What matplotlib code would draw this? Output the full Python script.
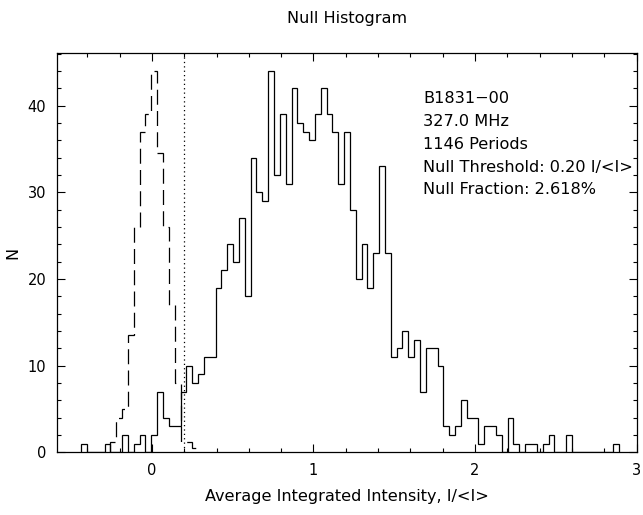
import numpy as np
import matplotlib.pyplot as plt
from matplotlib.ticker import MultipleLocator

# histogram bins (I/<I>)
bin_start = -0.4375
bin_width = 0.03616

# on-pulse counts, one per bin
on_counts = [1, 0, 0, 0, 1, 0, 0, 2, 0, 1, 2, 0, 2, 7, 4, 3, 3, 7, 10, 8,
             9, 11, 11, 19, 21, 24, 22, 27, 18, 34, 30, 29, 44, 32, 39, 31,
             42, 38, 37, 36, 39, 42, 39, 37, 31, 37, 28, 20, 24, 19, 23, 33, 23,
             11, 12, 14, 11, 13, 7, 12, 12, 10, 3, 2, 3, 6, 4, 4, 1, 3, 3, 2,
             0, 4, 1, 0, 1, 1, 0, 1, 2, 0, 0, 2, 0, 0, 0, 0, 0, 0, 0, 1]

# off-pulse histogram, starts at bin 5
off_first_bin = 5
off_counts = [1.2, 4, 5, 13.5, 26, 37, 39, 44, 34.6, 26, 17, 8, 1.2, 1.2, 0.5]

threshold = 0.20
info_lines = ["B1831\u221200", "327.0 MHz", "1146 Periods",
              "Null Threshold: 0.20 I/<I>", "Null Fraction: 2.618%"]

W, H = 643, 515
fig = plt.figure(figsize=(W / 100, H / 100), dpi=100)
ax = fig.add_axes([57.4 / W, 1 - 452.3 / H, (636.5 - 57.4) / W, (452.3 - 53.3) / H])

edges = bin_start + bin_width * np.arange(len(on_counts) + 1)
ax.stairs(on_counts, edges, baseline=0, color='black', lw=0.9)

off_edges = edges[off_first_bin:off_first_bin + len(off_counts) + 1]
ax.stairs(off_counts, off_edges, baseline=0, color='black', lw=0.9,
          linestyle=(0, (12, 5)))

ax.axvline(threshold, color='black', lw=0.9, linestyle=(0, (1, 2.5)))

ax.set_xlim(-0.585, 3.0)
ax.set_ylim(0, 46.05)

ax.xaxis.set_major_locator(MultipleLocator(1))
ax.xaxis.set_minor_locator(MultipleLocator(0.2))
ax.yaxis.set_major_locator(MultipleLocator(10))
ax.yaxis.set_minor_locator(MultipleLocator(2))
ax.tick_params(which='both', direction='in', top=True, right=True,
               width=0.8, labelsize=10.5)
ax.tick_params(which='major', length=6, pad=8)
ax.tick_params(which='minor', length=3)
for s in ax.spines.values():
    s.set_linewidth(0.9)

# info text block
for i, line in enumerate(info_lines):
    ax.text(1.68, 40.8 - 2.63 * i, line, fontsize=11.6, va='center', ha='left')

fig.text((57.4 + 636.5) / 2 / W, 1 - 18.5 / H, "Null Histogram",
         ha='center', va='center', fontsize=11.6)
fig.text((57.4 + 636.5) / 2 / W, 1 - 497 / H,
         "Average Integrated Intensity, I/<I>", ha='center', va='center',
         fontsize=11.6)
fig.text(13 / W, 1 - 253 / H, "N", ha='center', va='center', fontsize=11.6,
         rotation=90)

fig.savefig('out.png', dpi=100)
